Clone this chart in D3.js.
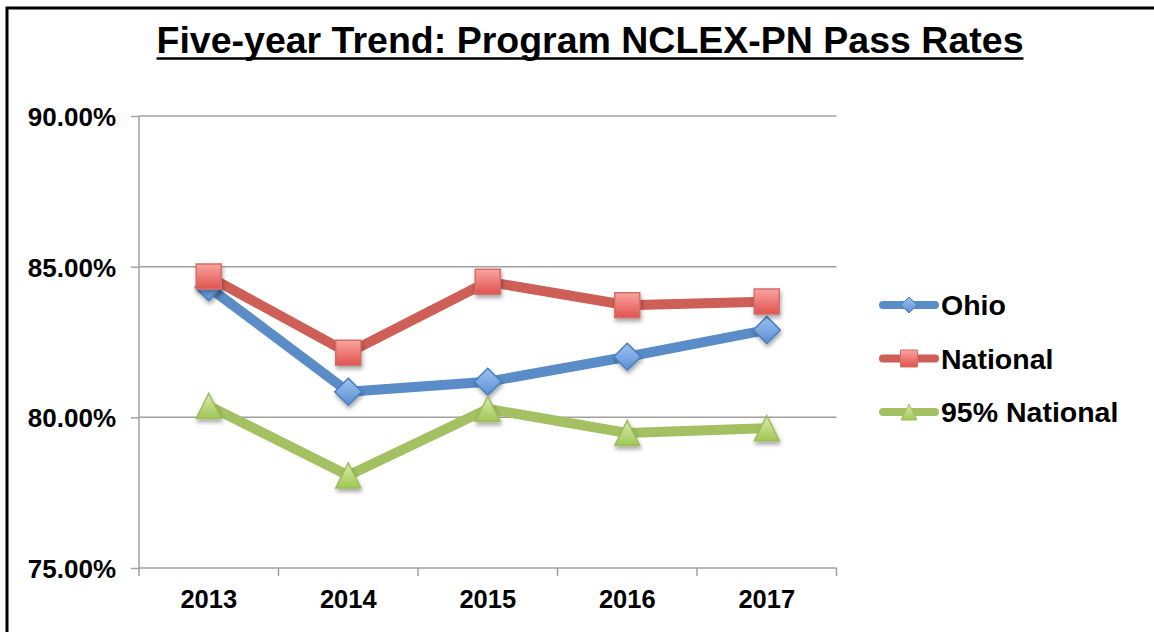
<!DOCTYPE html>
<html>
<head>
<meta charset="utf-8">
<script src="https://cdn.jsdelivr.net/npm/d3@7"></script>
<style>
  body { margin: 0; background: #fff; }
  text { font-family: "Liberation Sans", Arial, sans-serif; font-weight: bold; fill: #000; }
</style>
</head>
<body>
<div id="the_chart"></div>
<script>
// data
var years = ["2013", "2014", "2015", "2016", "2017"];
var ohio = [84.32, 80.85, 81.18, 82.01, 82.9];
var national = [84.67, 82.14, 84.5, 83.72, 83.84];
var national95 = [80.38, 78.07, 80.28, 79.48, 79.64];
var seriesNames = ["Ohio", "National", "95% National"];
var yTicks = [75, 80, 85, 90];

var w = 1154, h = 632;

var svg = d3.select("#the_chart")
            .append("svg")
            .attr("width", w)
            .attr("height", h);

var defs = svg.append("defs");
function grad(id, c1, c2) {
    var g = defs.append("linearGradient").attr("id", id)
        .attr("x1", 0).attr("y1", 0).attr("x2", 0).attr("y2", 1);
    g.append("stop").attr("offset", "0%").attr("stop-color", c1);
    g.append("stop").attr("offset", "100%").attr("stop-color", c2);
}
grad("gBlue", "#9cc3f0", "#5b8fd4");
grad("gRed", "#f9a3a0", "#e0534e");
grad("gGreen", "#dcebab", "#9fc755");

var shadow = defs.append("filter").attr("id", "shadow")
    .attr("x", "-50%").attr("y", "-50%").attr("width", "200%").attr("height", "200%");
shadow.append("feDropShadow").attr("dx", 1).attr("dy", 3).attr("stdDeviation", 2)
    .attr("flood-color", "#000").attr("flood-opacity", 0.35);

// frame
svg.append("rect")
   .attr("x", 7).attr("y", 8)
   .attr("width", w + 20).attr("height", h + 20)
   .attr("fill", "none").attr("stroke", "#000").attr("stroke-width", 3);

// title
var title = svg.append("text")
   .attr("x", 590).attr("y", 53)
   .attr("text-anchor", "middle")
   .style("font-size", "37.5px")
   .text("Five-year Trend: Program NCLEX-PN Pass Rates");
var tb = title.node().getBBox();
svg.append("line")
   .attr("x1", tb.x).attr("x2", tb.x + tb.width)
   .attr("y1", 58.5).attr("y2", 58.5)
   .attr("stroke", "#000").attr("stroke-width", 2.5);

var plotL = 139, plotR = 836.5, plotT = 116, plotB = 568;

var xscale = d3.scaleBand().domain(years).range([plotL, plotR]);
var yscale = d3.scaleLinear().domain([75, 90]).range([plotB, plotT]);
var cx = function(d, i) { return xscale(years[i]) + xscale.bandwidth() / 2; };

// gridlines
svg.append("g").selectAll("line")
   .data(yTicks.slice(1))
   .enter().append("line")
   .attr("x1", plotL).attr("x2", plotR)
   .attr("y1", function(d) { return yscale(d); })
   .attr("y2", function(d) { return yscale(d); })
   .attr("stroke", "#a0a0a0").attr("stroke-width", 1.5);

// y axis
var yaxis = d3.axisLeft(yscale)
    .tickValues(yTicks)
    .tickFormat(function(d) { return d.toFixed(2) + "%"; })
    .tickSize(8).tickPadding(15);
var gY = svg.append("g")
   .attr("transform", "translate(" + plotL + ",0)")
   .call(yaxis);
gY.selectAll("path, line").attr("stroke", "#a0a0a0").attr("stroke-width", 1.5);
gY.select("path").attr("d", "M0," + plotB + "V" + plotT);
gY.selectAll("text").style("font-size", "26px").attr("dy", "0.36em").attr("fill", "#000");

// x axis
var xaxis = d3.axisBottom(xscale).tickSize(0).tickPadding(22);
var gX = svg.append("g")
   .attr("transform", "translate(0," + plotB + ")")
   .call(xaxis);
gX.select("path").attr("stroke", "#a0a0a0").attr("stroke-width", 1.5)
   .attr("d", "M" + plotL + ",0H" + plotR);
gX.selectAll("text").style("font-size", "25.5px").attr("dy", "0.71em").attr("fill", "#000");
gX.append("g").selectAll("line")
   .data(years.concat(["end"]))
   .enter().append("line")
   .attr("x1", function(d, i) { return plotL + i * xscale.bandwidth(); })
   .attr("x2", function(d, i) { return plotL + i * xscale.bandwidth(); })
   .attr("y1", 0).attr("y2", 8)
   .attr("stroke", "#a0a0a0").attr("stroke-width", 1.5);

var series = [
    { name: seriesNames[0], values: ohio, line: "#5a8dc7", stroke: "#4a7dbd", fill: "url(#gBlue)", shape: "diamond" },
    { name: seriesNames[1], values: national, line: "#cd5f57", stroke: "#d46e69", fill: "url(#gRed)", shape: "square" },
    { name: seriesNames[2], values: national95, line: "#a3c163", stroke: "#9cbc5c", fill: "url(#gGreen)", shape: "triangle" }
];

function markerPath(shape, s) {
    var r = s / 2;
    if (shape == "diamond") return "M0," + (-r) + "L" + r + ",0L0," + r + "L" + (-r) + ",0Z";
    if (shape == "square") return "M" + (-r) + "," + (-r) + "H" + r + "V" + r + "H" + (-r) + "Z";
    return "M0," + (-r) + "L" + r + "," + r + "H" + (-r) + "Z";
}

var line = d3.line()
    .x(cx)
    .y(function(d) { return yscale(d); });

series.forEach(function(s) {
    var g = svg.append("g");
    g.append("path")
       .attr("d", line(s.values))
       .attr("fill", "none")
       .attr("stroke", s.line)
       .attr("stroke-width", 10)
       .attr("stroke-linejoin", "round")
       .attr("stroke-linecap", "round");
    var size = s.shape == "diamond" ? 27 : 25;
    g.selectAll("path.m")
       .data(s.values)
       .enter().append("path")
       .attr("class", "m")
       .attr("transform", function(d, i) { return "translate(" + cx(d, i) + "," + yscale(d) + ")"; })
       .attr("d", markerPath(s.shape, size))
       .attr("fill", s.fill)
       .attr("stroke", s.stroke)
       .attr("stroke-width", 1.5)
       .attr("filter", "url(#shadow)");
});

// legend
var legend = svg.append("g").selectAll("g")
    .data(series)
    .enter().append("g")
    .attr("transform", function(d, i) { return "translate(879," + (305 + i * 53.5) + ")"; });
legend.append("line")
    .attr("x1", 4).attr("x2", 56).attr("y1", 0).attr("y2", 0)
    .attr("stroke", function(d) { return d.line; })
    .attr("stroke-width", 8)
    .attr("stroke-linecap", "round");
legend.append("path")
    .attr("transform", "translate(30,0)")
    .attr("d", function(d) { return markerPath(d.shape, d.shape == "square" ? 17 : 16); })
    .attr("fill", function(d) { return d.fill; })
    .attr("stroke", function(d) { return d.stroke; })
    .attr("stroke-width", 1);
legend.append("text")
    .attr("x", 62).attr("dy", "0.36em")
    .style("font-size", "28.5px")
    .text(function(d) { return d.name; });
</script>
</body>
</html>
